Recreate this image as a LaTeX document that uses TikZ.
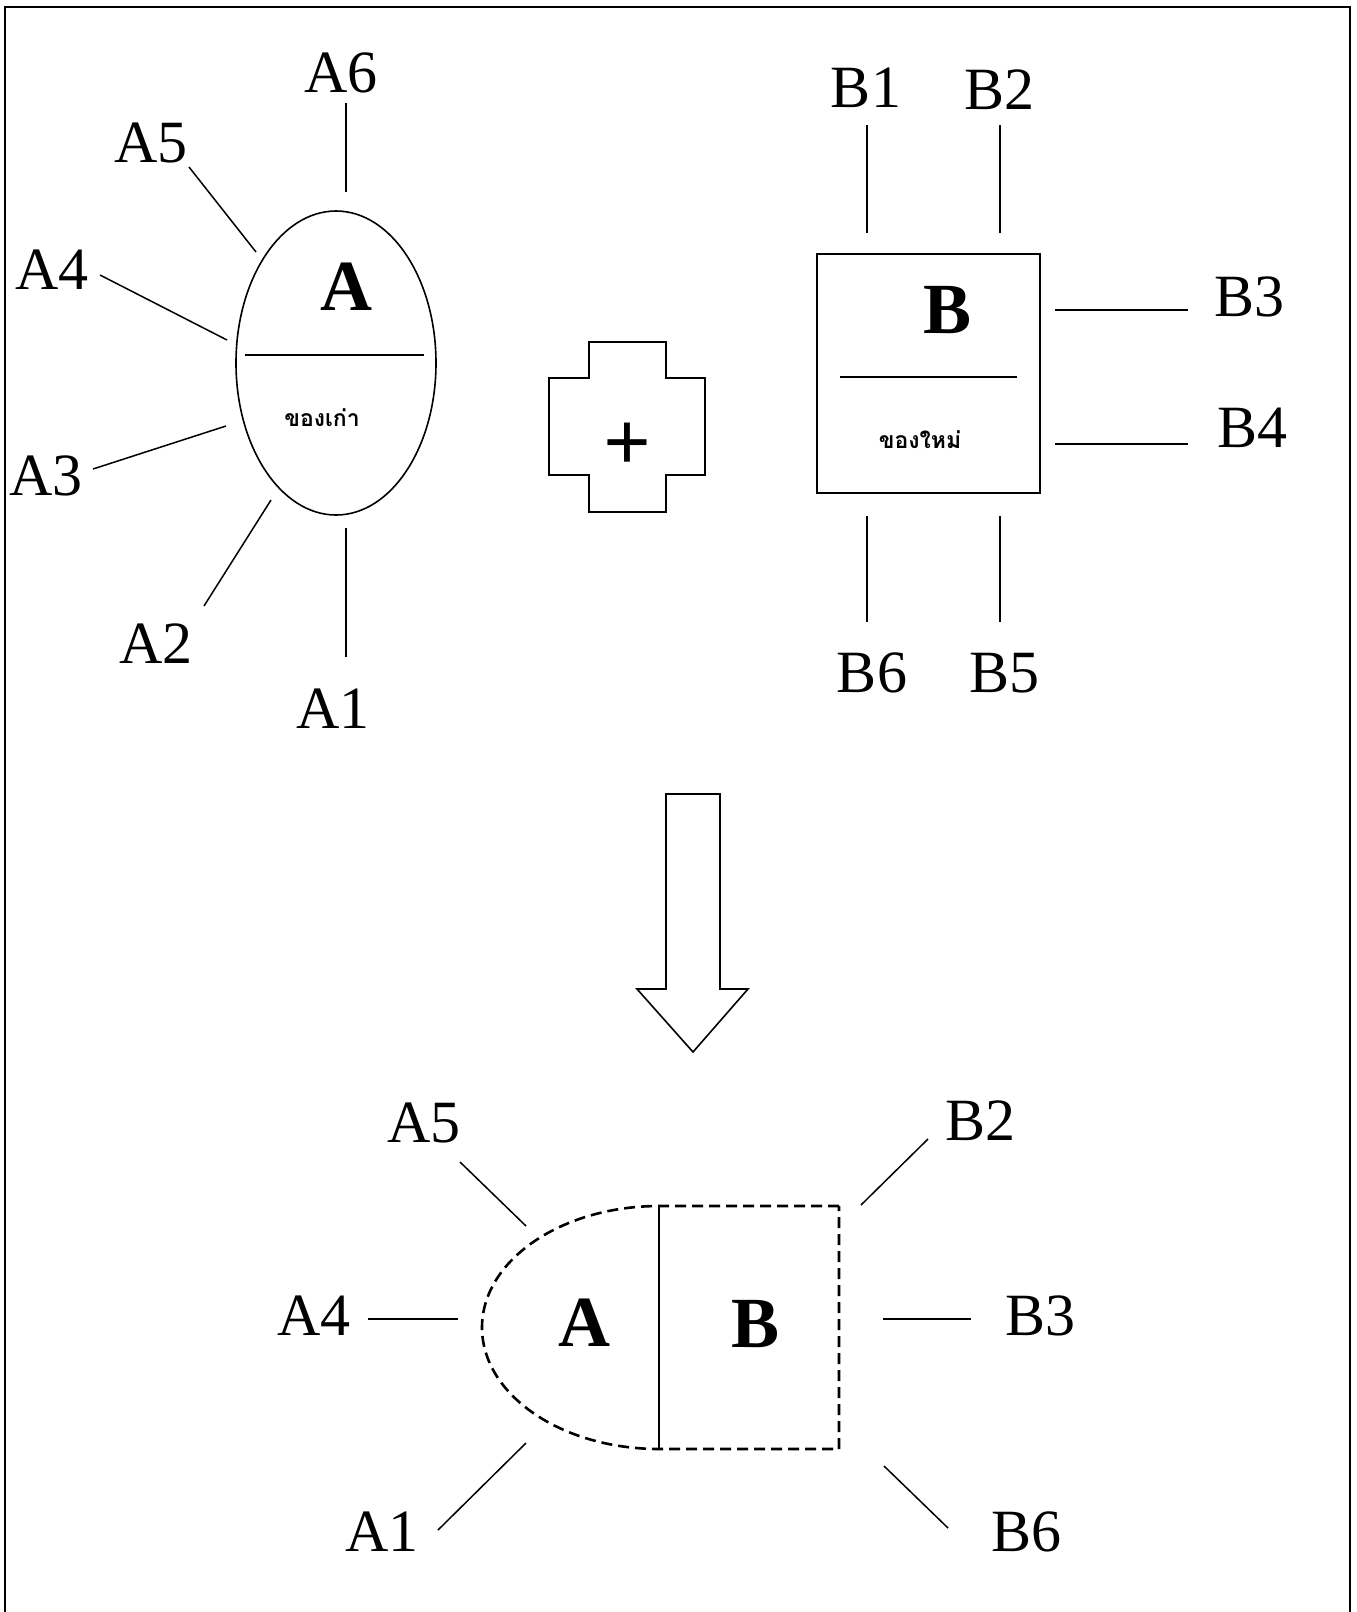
\documentclass[tikz,border=0pt]{standalone}
\usepackage{fontspec}
\setmainfont{Liberation Serif}
\newfontfamily\thaifont[Script=Thai]{Loma}
\usetikzlibrary{shapes.geometric}
\begin{document}
\begin{tikzpicture}[x=1pt,y=-1pt,
  lbl/.style={font=\fontsize{60}{60}\selectfont, inner sep=0pt},
  big/.style={font=\fontsize{72}{72}\selectfont\bfseries, inner sep=0pt},
  thai/.style={font=\thaifont\bfseries\fontsize{23}{27}\selectfont, inner sep=0pt},
  ln/.style={line width=1.5pt},
  shp/.style={line width=1.6pt},
  dsh/.style={line width=2.6pt, dash pattern=on 11pt off 6pt},
  frame/.style={line width=2pt},
]
\useasboundingbox (0,0) rectangle (1357,1612);
% frame
\draw[frame] (5,1630) -- (5,7) -- (1350,7) -- (1350,1630);

% ===== A (old) =====
\node[ellipse, draw, shp, minimum width=200pt, minimum height=304pt, inner sep=0pt] (ellA) at (336,363) {};
\coordinate (dAl) at (245,355);
\coordinate (dAr) at (424,355);
\draw[ln] (dAl) -- (dAr);
\node[big] (tA) at (346,287) {A};
\node[thai] (oldA) at (322,418) {ของเก่า};

\node[lbl] (A6) at (341,73) {A6};
\node[lbl] (A5) at (151,143) {A5};
\node[lbl] (A4) at (52,270) {A4};
\node[lbl] (A3) at (46,476) {A3};
\node[lbl] (A2) at (156,644) {A2};
\node[lbl] (A1) at (333,709) {A1};
\coordinate (a6s) at (346,103); \coordinate (a6e) at (346,192);
\coordinate (a5s) at (189,167); \coordinate (a5e) at (256,252);
\coordinate (a4s) at (100,275); \coordinate (a4e) at (227,340);
\coordinate (a3s) at (93,469);  \coordinate (a3e) at (226,426);
\coordinate (a2s) at (204,606); \coordinate (a2e) at (271,500);
\coordinate (a1s) at (346,528); \coordinate (a1e) at (346,657);
\foreach \p in {a6,a5,a4,a3,a2,a1}{\draw[ln] (\p s) -- (\p e);}

% ===== plus =====
\draw[shp] (589,342) -- (666,342) -- (666,378) -- (705,378) -- (705,475) -- (666,475)
  -- (666,512) -- (589,512) -- (589,475) -- (549,475) -- (549,378) -- (589,378) -- cycle;
\node[font=\fontsize{84}{84}\selectfont\bfseries, inner sep=0pt] (plus) at (627,447) {+};

% ===== B (new) =====
\node[draw, shp, minimum width=223pt, minimum height=239pt, inner sep=0pt] (boxB) at (928.5,373.5) {};
\coordinate (dBl) at (840,377);
\coordinate (dBr) at (1017,377);
\draw[ln] (dBl) -- (dBr);
\node[big] (tB) at (948,310) {B};
\node[thai] (newB) at (920,440) {ของใหม่};

\node[lbl] (B1) at (866,88) {B1};
\node[lbl] (B2) at (999,90) {B2};
\node[lbl] (B3) at (1249,297) {B3};
\node[lbl] (B4) at (1252,428) {B4};
\node[lbl] (B5) at (1004,673) {B5};
\node[lbl] (B6) at (872,673) {B6};
\coordinate (b1s) at (867,125); \coordinate (b1e) at (867,233);
\coordinate (b2s) at (1000,125); \coordinate (b2e) at (1000,233);
\coordinate (b3s) at (1055,310); \coordinate (b3e) at (1188,310);
\coordinate (b4s) at (1055,444); \coordinate (b4e) at (1188,444);
\coordinate (b5s) at (1000,516); \coordinate (b5e) at (1000,622);
\coordinate (b6s) at (867,516); \coordinate (b6e) at (867,622);
\foreach \p in {b1,b2,b3,b4,b5,b6}{\draw[ln] (\p s) -- (\p e);}

% ===== big arrow =====
\draw[shp] (666,794) -- (720,794) -- (720,989) -- (748,989) -- (693,1052) -- (637,989) -- (666,989) -- cycle;

% ===== combined =====
\draw[dsh] (839,1206) -- (659,1206) arc[start angle=-90, end angle=-270, x radius=177, y radius=121.5]
  -- (839,1449) -- cycle;
\coordinate (divT) at (659,1206);
\coordinate (divB) at (659,1449);
\draw[ln] (divT) -- (divB);
\node[big] (cA) at (584,1323) {A};
\node[big] (cB) at (756,1324) {B};

\node[lbl] (cA5) at (424,1123) {A5};
\node[lbl] (cA4) at (314,1316) {A4};
\node[lbl] (cA1) at (382,1532) {A1};
\node[lbl] (cB2) at (980,1121) {B2};
\node[lbl] (cB3) at (1040,1316) {B3};
\node[lbl] (cB6) at (1026,1532) {B6};
\coordinate (ca5s) at (460,1162); \coordinate (ca5e) at (526,1226);
\coordinate (ca4s) at (368,1319); \coordinate (ca4e) at (458,1319);
\coordinate (ca1s) at (438,1530); \coordinate (ca1e) at (526,1443);
\coordinate (cb2s) at (928,1139); \coordinate (cb2e) at (861,1205);
\coordinate (cb3s) at (883,1319); \coordinate (cb3e) at (971,1319);
\coordinate (cb6s) at (884,1466); \coordinate (cb6e) at (948,1528);
\foreach \p in {ca5,ca4,ca1,cb2,cb3,cb6}{\draw[ln] (\p s) -- (\p e);}
\end{tikzpicture}
\end{document}
